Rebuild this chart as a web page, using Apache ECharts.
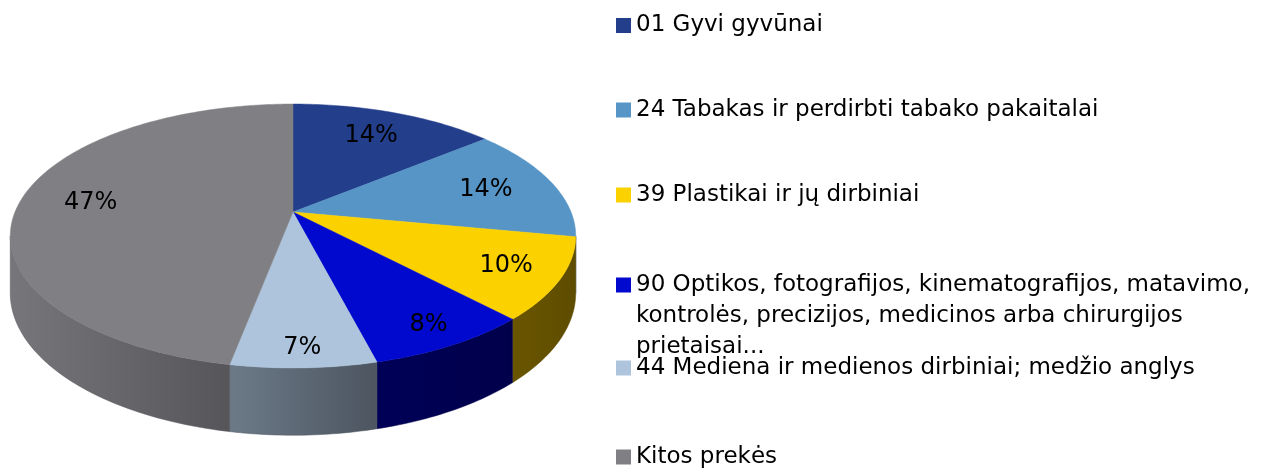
<!DOCTYPE html>
<html>
<head>
<meta charset="utf-8">
<script src="https://cdn.jsdelivr.net/npm/echarts@6/dist/echarts.min.js"></script>
<style>
  html, body { margin: 0; padding: 0; background: #fff; }
  #chart { width: 1276px; height: 468px; }
</style>
</head>
<body>
<div id="chart"></div>
<script>
// data
var categories = [
    '01 Gyvi gyvūnai',
    '24 Tabakas ir perdirbti tabako pakaitalai',
    '39 Plastikai ir jų dirbiniai',
    '90 Optikos, fotografijos, kinematografijos, matavimo, kontrolės, precizijos, medicinos arba chirurgijos prietaisai...',
    '44 Mediena ir medienos dirbiniai; medžio anglys',
    'Kitos prekės'
];
var shares = [14, 14, 10, 8, 7, 47];
var topColors = ['#233e8b', '#5795c6', '#fbd100', '#0009cd', '#adc4dc', '#808084'];
var sideColors = [
    ['#132350', '#132350'],
    ['#34597a', '#34597a'],
    ['#6a5600', '#5e4c00'],
    ['#000058', '#00004a'],
    ['#6c7a88', '#4c5560'],
    ['#77777b', '#55555a']
];
// long legend entry split the way it wraps in the picture
var wrappedLines = [
    '90 Optikos, fotografijos, kinematografijos, matavimo,',
    'kontrolės, precizijos, medicinos arba chirurgijos',
    'prietaisai...'
];

// layout of the tilted pie
var CX = 293, CY = 212, RX = 278, RY = 127.6, P = 0.182, H = 55;
var legendTops = [10, 94.5, 179.5, 207.5, 352.5, 441.5];
var FONT = '"DejaVu Sans", sans-serif';

var total = shares.reduce(function (a, b) { return a + b; }, 0);
var edgeA = Math.acos(-P) * 180 / Math.PI;
var edgeB = 360 - edgeA;

function project(deg, r, dz) {
    var t = deg * Math.PI / 180;
    var u = Math.sin(t) * r, v = -Math.cos(t) * r;
    var s = 1 / (1 - P * v);
    return [CX + RX * u * s, CY + RY * v * s + dz * s];
}

function arc(a0, a1, dz) {
    var pts = [];
    var n = Math.max(2, Math.ceil(a1 - a0));
    for (var k = 0; k <= n; k++) {
        pts.push(project(a0 + (a1 - a0) * k / n, 1, dz));
    }
    return pts;
}

function makeRender(i) {
    return function (params, api) {
        var before = 0;
        for (var j = 0; j < i; j++) before += shares[j];
        var a0 = before / total * 360;
        var a1 = (before + api.value(0)) / total * 360;
        var children = [];

        // front wall
        var w0 = Math.max(a0, edgeA), w1 = Math.min(a1, edgeB);
        if (w1 > w0) {
            var wall = arc(w0, w1, 0).concat(arc(w0, w1, H).reverse());
            var fill = new echarts.graphic.LinearGradient(0, 0, 1, 0, [
                { offset: 0, color: sideColors[i][0] },
                { offset: 1, color: sideColors[i][1] }
            ]);
            children.push({
                type: 'polygon',
                shape: { points: wall },
                style: { fill: fill, stroke: sideColors[i][1], lineWidth: 0.5 }
            });
        }

        // top face
        var top = [[CX, CY]].concat(arc(a0, a1, 0));
        children.push({
            type: 'polygon',
            shape: { points: top },
            style: { fill: topColors[i], stroke: topColors[i], lineWidth: 0.5 }
        });

        // percent label
        var mid = (a0 + a1) / 2;
        var vm = -Math.cos(mid * Math.PI / 180);
        var lp = project(mid, 0.74 + 0.15 * Math.max(vm, 0), 0);
        children.push({
            type: 'text',
            x: lp[0], y: lp[1],
            style: {
                text: Math.round(api.value(0) / total * 100) + '%',
                fill: '#000',
                font: '24px ' + FONT,
                align: 'center',
                verticalAlign: 'middle'
            }
        });

        return { type: 'group', children: children };
    };
}

var series = categories.map(function (name, i) {
    return {
        name: name,
        type: 'custom',
        coordinateSystem: 'none',
        itemStyle: { color: topColors[i] },
        renderItem: makeRender(i),
        data: [[shares[i]]],
        silent: true
    };
});

var legends = categories.map(function (name, i) {
    var multi = (i === 3);
    return {
        left: 616,
        top: legendTops[i],
        padding: 0,
        orient: 'vertical',
        selectedMode: false,
        icon: 'rect',
        itemWidth: 15,
        itemHeight: 15,
        data: [name],
        formatter: function (n) {
            // two blank lines keep the square beside the first line
            return multi ? '\n\n' + wrappedLines.join('\n') : n;
        },
        textStyle: {
            color: '#000',
            fontSize: 23,
            fontFamily: FONT,
            lineHeight: 31
        }
    };
});

var myChart = echarts.init(document.getElementById('chart'));
myChart.setOption({
    animation: false,
    legend: legends,
    series: series
});
</script>
</body>
</html>
